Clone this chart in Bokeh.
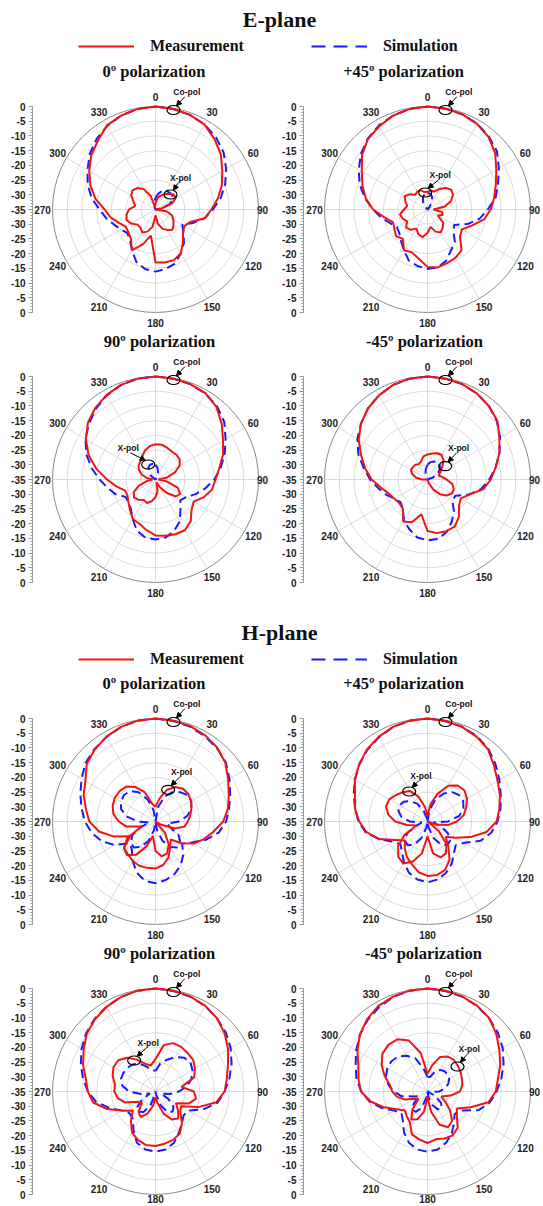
import numpy as np
from bokeh.plotting import figure
from bokeh.models import (Range1d, LinearAxis, FixedTicker, CustomJSTickFormatter,
                          Arrow, NormalHead, Legend, LegendItem)
from bokeh.layouts import column, row
from bokeh.core.properties import value
from bokeh.embed import file_html
from bokeh.resources import INLINE

# ---------------- data (dB, normalised) ----------------
ANGLE_DEG = list(range(0, 360, 10))
DB_FLOOR = -35
RING_DB = [-30, -25, -20, -15, -10, -5]
OUTER_DB = 0
SPOKE_DEG = list(range(0, 360, 30))
TICK_DB = list(range(-35, 36, 5))
MINOR_TICK_DB = list(range(-35, 36, 1))

# E-plane, 0 deg polarization
E0_MEAS_CO = [0, -0.3, -0.8, -1.7, -3.8, -6, -8.8, -11, -13.5, -16, -18, -22.5, -23.7, -22.8, -20.5, -17.8, -16.7, -16.7,
              -17, -26, -22.5, -19, -22, -23, -23.3, -21.8, -19.5, -17.7, -14.3, -11.5, -9, -6.5, -4.5, -2, -1, -0.3]
E0_MEAS_X = [-33, -31, -30, -29, -28, -27, -27, -29, -33, -35, -31, -29, -28, -27, -26, -27, -28, -30,
             -33, -29, -27, -26, -27, -27, -25.5, -24.5, -25, -26, -28, -27, -25.5, -24.8, -25.5, -27, -30, -34]
E0_SIM_CO = [0, -0.3, -0.8, -1.6, -3, -4.8, -7.3, -9.8, -12.5, -15.5, -18, -21.5, -24.5, -22.5, -20, -17.8, -15.5, -14.5,
             -13.9, -14.5, -16, -19, -21.5, -22.5, -21.5, -20, -18, -16, -13, -10.5, -8.3, -5.8, -3.8, -2.2, -1, -0.3]
E0_SIM_X = [-31, -29.5, -28.3, -27.7, -27.5, -27.5, -28, -30, -33, -35, -35, -35, -35, -35, -35, -35, -35, -35,
            -35, -35, -35, -35, -35, -35, -35, -35, -35, -35, -35, -35, -35, -35, -35, -35, -34, -32.5]

# E-plane, +45 deg polarization
E45_MEAS_CO = [0, -0.2, -0.5, -1.4, -2.8, -5, -8, -10.3, -12, -13.5, -15.5, -19, -21.5, -20.6, -17, -16, -15.6, -15,
               -15.5, -18, -19.5, -19, -22, -21, -22, -22.5, -20, -16.5, -13.7, -11.5, -9.2, -6, -3.6, -2.3, -1, -0.3]
E45_MEAS_X = [-29, -28.5, -28.5, -27, -25.5, -24.5, -25, -26.5, -29, -33, -30, -29.5, -31, -28, -27, -26, -27, -29,
              -27, -25.5, -26, -27.5, -26, -25.5, -27, -26, -25.5, -27, -28, -27, -26, -27, -28.5, -28, -28, -29]
E45_SIM_CO = [0, -0.2, -0.6, -1.3, -2.6, -4.2, -7, -9.5, -11.5, -14.5, -17, -20.5, -24.5, -23.5, -20.5, -19, -16.5, -15,
              -14.8, -15.5, -16.5, -19, -21, -22.5, -23, -21.5, -19, -16.5, -13.5, -10.5, -8, -5.5, -3.5, -2, -1, -0.3]
E45_SIM_X = [-29.5, -29.5, -30.5, -32, -34, -35, -35, -35, -35, -35, -35, -35, -35, -35, -35, -35, -35, -35,
             -35, -35, -35, -35, -35, -35, -35, -35, -35, -35, -35, -35, -35, -35, -34, -32, -30.5, -29.7]

# E-plane, 90 deg polarization
E90_MEAS_CO = [0, -0.2, -0.5, -1.1, -2.8, -5.6, -8.5, -10.6, -13, -14.6, -15.5, -17.5, -20, -19, -16.4, -15.1, -15.2, -15.6,
               -16, -17.5, -19, -19.5, -21.5, -23, -24, -24, -21.5, -18.5, -14.7, -10.8, -7.7, -5, -3.2, -1.8, -0.8, -0.2]
E90_MEAS_X = [-23, -23, -23.5, -24, -24, -24.3, -25.5, -28, -31, -34, -31, -27, -25.3, -26, -29, -32, -34, -31,
              -29, -27.5, -26.5, -27, -26, -25.5, -26.5, -29, -32, -34, -32, -30, -28.5, -27.5, -27, -26, -24.5, -23.5]
E90_SIM_CO = [0, -0.2, -0.5, -1.2, -2.5, -4.5, -7.5, -10, -12.5, -15, -17.8, -20.5, -23, -24, -21.8, -18.5, -16.5, -15,
              -14.6, -15, -16.5, -19.5, -22, -23, -23.2, -20.5, -18.5, -16, -13, -10, -7.5, -5.5, -3.5, -2, -0.8, -0.2]
E90_SIM_X = [-30, -31, -32.5, -34, -35, -35, -35, -35, -35, -35, -35, -35, -35, -35, -35, -35, -35, -35,
             -35, -35, -35, -35, -35, -35, -35, -35, -35, -35, -35, -35, -34.5, -33, -31.5, -30.3, -29.6, -29.6]

# E-plane, -45 deg polarization
EM45_MEAS_CO = [0, -0.2, -0.5, -1.3, -2.5, -4, -6.8, -9, -11.5, -13.5, -15.8, -20, -22, -21, -18.4, -16.5, -16.3, -16.5,
                -17.5, -23, -19.5, -18.5, -22, -22.5, -22, -21, -19, -16, -13.5, -11, -8, -5.5, -3.5, -2, -0.8, -0.2]
EM45_MEAS_X = [-26.5, -26, -25.5, -25.4, -26.5, -28.5, -30, -31, -30, -28.5, -26.5, -25.5, -25.5, -26.5, -28.5, -31, -33.5, -35,
               -35, -35, -35, -35, -35, -35, -35, -35, -35, -33, -31, -29.5, -28.5, -28.5, -28.5, -29, -28.5, -27]
EM45_SIM_CO = [0, -0.2, -0.5, -1.3, -2.5, -4.2, -6.5, -9, -11.5, -14, -16.5, -20, -24, -24, -21, -18.5, -16, -14.5,
               -14.3, -15, -17, -19, -22, -23, -22, -20, -18, -15.5, -13, -10, -7.5, -5.5, -3.5, -2, -0.8, -0.2]
EM45_SIM_X = [-30, -29, -28.5, -28.2, -28.5, -29.5, -31, -33, -35, -35, -35, -35, -35, -35, -35, -35, -35, -35,
              -35, -35, -35, -35, -35, -35, -35, -35, -35, -35, -35, -35, -35, -35, -35, -34.5, -33, -31.5]

# H-plane, 0 deg polarization
H0_MEAS_CO = [0, -0.2, -0.5, -1.2, -2.3, -4, -6.5, -8.5, -10, -12, -15, -17.5, -20, -23.5, -27, -25, -22, -20,
              -19, -19, -19, -19.5, -20.5, -21, -25, -20, -15.5, -12.5, -11, -9, -7.5, -4.5, -3, -1.7, -0.8, -0.2]
H0_MEAS_X = [-30, -27, -23.5, -21.5, -20.5, -20.5, -21, -22, -23, -24, -25, -28, -33, -35, -30, -26, -23.5, -23,
             -25, -30, -26, -22, -20, -21, -24, -30, -25, -22.5, -20.5, -19.5, -19, -19, -19.5, -21.5, -24.5, -29]
H0_SIM_CO = [0, -0.3, -0.7, -1.5, -2.5, -3.8, -6, -8, -9.6, -11, -13.2, -16.8, -20.8, -23.2, -20.3, -17.9, -16, -14.8,
             -14, -14.5, -16.5, -19.5, -22.5, -23.5, -19, -15.5, -13, -11, -9.5, -7.8, -6, -4, -2.8, -1.8, -0.8, -0.2]
H0_SIM_X = [-35, -30, -26, -23.5, -22, -21, -21, -22, -24, -27, -31, -30, -26, -24, -23.5, -25, -28, -32,
            -35, -32, -28, -25, -23.5, -24, -26, -30, -33, -29, -25, -22.5, -21.5, -21, -21.5, -23.5, -27, -31]

# H-plane, +45 deg polarization
H45_MEAS_CO = [0, -0.3, -0.8, -1.7, -3, -5.5, -7.5, -8.8, -10.2, -11.5, -14.6, -19.5, -24, -27, -24, -20, -17.5, -16.5,
               -16.5, -17.5, -19.5, -21, -23, -25, -22.5, -17.5, -14, -11.8, -10, -8.8, -6.5, -4.7, -3, -1.8, -0.8, -0.2]
H45_MEAS_X = [-33, -29, -25, -21, -19, -18.6, -19.5, -21, -22.5, -25, -28, -32, -35, -30, -25, -22.5, -22, -24,
              -30, -24, -20.5, -18.5, -19.5, -22, -26, -31, -28, -24, -21.5, -20, -20, -21, -22, -23, -26, -30]
H45_SIM_CO = [0, -0.3, -0.7, -1.5, -2.8, -4.8, -6.8, -8.5, -9.8, -11.2, -13, -15.8, -20.5, -22.5, -21, -18.5, -16.5, -15,
              -14.3, -15, -16.5, -19, -21.5, -23, -21.3, -17.5, -13.7, -11.5, -10, -8.3, -6.5, -4.8, -3.2, -2, -0.8, -0.2]
H45_SIM_X = [-35, -31, -27, -24, -22, -21, -21, -22, -24, -28, -33, -30, -27, -25, -24.5, -26, -29, -33,
             -35, -33, -29, -26, -24.5, -25, -27, -31, -33, -29, -26, -24.5, -24, -24.5, -26, -28, -31, -34]

# H-plane, 90 deg polarization
H90_MEAS_CO = [0, -0.2, -0.6, -1.3, -2.5, -4.3, -6.5, -8.8, -10.4, -11.5, -14, -19.5, -25, -24, -21, -18.5, -17.5, -17,
               -16.5, -16.5, -17.5, -19, -22, -25, -22, -17.5, -13.5, -12, -11, -8.8, -6.8, -4.5, -3, -1.8, -0.8, -0.2]
H90_MEAS_X = [-24, -19, -17.5, -17.5, -18, -18.3, -19.5, -21, -26, -22, -21, -23, -27, -25, -23, -24, -27, -31,
              -33, -30, -27, -25, -26, -29, -28, -24, -22, -21, -21, -19.5, -18.5, -18.5, -20, -22.5, -25, -26]
H90_SIM_CO = [0, -0.3, -0.7, -1.4, -2.5, -3.8, -5.5, -7.5, -9.5, -11.5, -13.5, -17.5, -22, -22.5, -21, -19, -16.5, -15,
              -14.6, -15, -16.5, -20, -23, -23.5, -22, -18.5, -14.5, -12, -10, -8, -6, -4.2, -2.8, -1.7, -0.8, -0.2]
H90_SIM_X = [-28, -25.3, -23.5, -21.5, -20, -19.5, -20.5, -22, -24, -27, -30, -33, -30, -27, -26, -27, -30, -34,
             -35, -34, -30, -27, -26, -27, -30, -33, -30, -26, -23.5, -22.5, -22.4, -22.5, -23, -24, -26, -27.5]

# H-plane, -45 deg polarization
HM45_MEAS_CO = [0, -0.2, -0.6, -1.3, -2.4, -4.5, -6.8, -8.7, -10.7, -11.8, -14, -19.4, -23.5, -22, -19, -17.8, -18, -18.5,
                -17.5, -18.5, -19.5, -23, -24, -25, -23, -19.3, -15.4, -12.4, -11.2, -10, -7.5, -5, -3, -1.5, -0.7, -0.2]
HM45_MEAS_X = [-29, -26, -22.5, -21.3, -21, -21.5, -22, -22.5, -23, -24, -27, -30, -28, -25, -22, -21, -23, -28,
               -33, -28, -25, -24, -27, -31, -30, -27, -24.5, -23, -22, -19.5, -17, -15, -14.3, -14.5, -16.6, -21.7]
HM45_SIM_CO = [0, -0.3, -0.7, -1.4, -2.5, -3.8, -5.5, -7.5, -9.5, -11.5, -13.5, -16.5, -22, -23, -21, -18.5, -16.5, -15,
               -14.5, -15, -16.5, -19, -22, -23.5, -22, -18.5, -15, -12.5, -10.5, -9, -7, -5, -3.3, -2, -0.8, -0.2]
HM45_SIM_X = [-30, -30, -28, -26.5, -26, -26, -26.5, -27.5, -29, -31, -34, -35, -32, -29, -27.5, -28, -30, -33,
              -35, -33, -29, -27, -27, -29, -32, -30, -26, -23.5, -21.5, -20, -19.2, -19, -19.5, -21, -23, -27]

PANEL_TITLES = ["0º polarization", "+45º polarization", "90º polarization", "-45º polarization",
                "0º polarization", "+45º polarization", "90º polarization", "-45º polarization"]
PANEL_SERIES = [
    (E0_MEAS_CO, E0_MEAS_X, E0_SIM_CO, E0_SIM_X),
    (E45_MEAS_CO, E45_MEAS_X, E45_SIM_CO, E45_SIM_X),
    (E90_MEAS_CO, E90_MEAS_X, E90_SIM_CO, E90_SIM_X),
    (EM45_MEAS_CO, EM45_MEAS_X, EM45_SIM_CO, EM45_SIM_X),
    (H0_MEAS_CO, H0_MEAS_X, H0_SIM_CO, H0_SIM_X),
    (H45_MEAS_CO, H45_MEAS_X, H45_SIM_CO, H45_SIM_X),
    (H90_MEAS_CO, H90_MEAS_X, H90_SIM_CO, H90_SIM_X),
    (HM45_MEAS_CO, HM45_MEAS_X, HM45_SIM_CO, HM45_SIM_X),
]
LEGEND_LABELS = ["Measurement", "Simulation"]

# ---------------- layout / style (pixels) ----------------
S = 103.0 / 35.0            # px per dB of radius
AXIS_W = 32
TITLE_DX = [-1.5, -24, 4, -3, -1.5, -24, 4, -4]
TITLE_DY = 138
XPOL_ELLIPSE = [(15, 15), (-2.3, 17), (-7.3, 15), (17.7, 13.3),
                (12.7, 31.7), (-18.3, 30), (-21.3, 31), (30, 25)]
XPOL_LABEL_OFF = [(10, 17), (15, 17.3), (-20, 16.7), (13.3, 18.3),
                  (13.3, 17.7), (11.7, 15.7), (14, 17.3), (11.7, 17.3)]
COPOL_ELLIPSE = (18, 99.5)
COPOL_LABEL_OFF = (13.3, 18.3)
RED = "#f01414"
BLUE = "#1a1aff"
GRID_C = "#d2d2d2"
SANS = value("Liberation Sans")
SERIF = value("Liberation Serif")


def to_xy(db_list):
    th = np.radians(ANGLE_DEG + [360])
    db = np.array(list(db_list) + [db_list[0]], dtype=float)
    r = np.clip(db - DB_FLOOR, 0, None)
    return r * np.sin(th), r * np.cos(th)


def make_panel(i, width, height, cx, last_row):
    fw = width - AXIS_W
    p = figure(width=width, height=height, output_backend="svg", toolbar_location=None, tools="",
               x_range=Range1d(-cx / S, (fw - cx) / S),
               y_range=Range1d(-(height - 147) / S, 147 / S),
               x_axis_location=None, y_axis_location=None,
               min_border_left=AXIS_W, min_border_right=0, min_border_top=0, min_border_bottom=0,
               outline_line_color=None, background_fill_color="white", border_fill_color="white")
    p.grid.visible = False

    ax = LinearAxis(ticker=FixedTicker(ticks=TICK_DB, minor_ticks=MINOR_TICK_DB),
                    formatter=CustomJSTickFormatter(code="return String(Math.abs(Math.round(tick)) - 35);"),
                    bounds=(-35, 35))
    ax.axis_line_color = "#9a9a9a"
    ax.major_tick_line_color = "#9a9a9a"
    ax.minor_tick_line_color = "#9a9a9a"
    ax.major_tick_out = 4
    ax.major_tick_in = 0
    ax.minor_tick_out = 2
    ax.minor_tick_in = 0
    ax.major_label_standoff = 3
    ax.major_label_text_font = "Liberation Sans"
    ax.major_label_text_font_style = "bold"
    ax.major_label_text_font_size = "10px"
    ax.major_label_text_color = "#222222"
    p.add_layout(ax, "left")

    # polar grid
    rings = [d - DB_FLOOR for d in RING_DB]
    p.circle(x=[0] * len(rings), y=[0] * len(rings), radius=rings,
             fill_color=None, line_color=GRID_C, line_width=0.8)
    p.circle(x=[0], y=[0], radius=[OUTER_DB - DB_FLOOR], fill_color=None, line_color="#8a8a8a", line_width=1)
    R = OUTER_DB - DB_FLOOR
    sth = np.radians(SPOKE_DEG)
    p.segment(x0=[0] * len(sth), y0=[0] * len(sth), x1=R * np.sin(sth), y1=R * np.cos(sth),
              line_color=GRID_C, line_width=0.8)
    # angle labels; the 90 label (and the 180 label in the cut-off last row) sit a bit closer in
    rl = np.array([107 if (a == 90 or (a == 180 and last_row)) else 113 for a in SPOKE_DEG]) / S
    p.text(x=rl * np.sin(sth), y=rl * np.cos(sth), text=[str(a) for a in SPOKE_DEG],
           text_align="center", text_baseline="middle", text_font=SANS, text_font_style="bold",
           text_font_size="10px", text_color="#222222")

    mco, mx, sco, sx = PANEL_SERIES[i]
    for d in (sco, sx):
        x, y = to_xy(d)
        p.line(x, y, line_color=BLUE, line_width=2, line_dash="9 5")
    for d in (mco, mx):
        x, y = to_xy(d)
        p.line(x, y, line_color=RED, line_width=2)

    # title
    p.text(x=[TITLE_DX[i] / S], y=[TITLE_DY / S], text=[PANEL_TITLES[i]],
           text_align="center", text_baseline="middle", text_font=SERIF, text_font_style="bold",
           text_font_size="16.5px", text_color="#111111")

    # annotations
    for (ex, ey), (lx, ly), lab in ((COPOL_ELLIPSE, COPOL_LABEL_OFF, "Co-pol"),
                                     (XPOL_ELLIPSE[i], XPOL_LABEL_OFF[i], "X-pol")):
        p.ellipse(x=[ex / S], y=[ey / S], width=[13 / S], height=[9 / S],
                  fill_color=None, line_color="black", line_width=1.2)
        tx, ty = ex + lx, ey + ly
        sg = 1 if lx > 0 else -1
        p.text(x=[tx / S], y=[ty / S], text=[lab], text_align="center", text_baseline="middle",
               text_font=SANS, text_font_style="bold", text_font_size="8.5px", text_color="#111111")
        p.add_layout(Arrow(end=NormalHead(size=5, fill_color="black", line_color="black"),
                           x_start=(tx - sg * 2) / S, y_start=(ty - 5) / S,
                           x_end=(ex + sg * 3) / S, y_end=(ey + 4.3) / S,
                           line_color="black", line_width=1))
    return p


def make_header(title, height, title_y, legend_y):
    p = figure(width=543, height=height, output_backend="svg", toolbar_location=None, tools="",
               x_range=Range1d(0, 543), y_range=Range1d(height, 0),
               x_axis_location=None, y_axis_location=None,
               min_border=0, outline_line_color=None)
    p.grid.visible = False
    p.text(x=[279], y=[title_y], text=[title], text_align="center", text_baseline="middle",
           text_font=SERIF, text_font_style="bold", text_font_size="22px", text_color="#111111")
    # legend proxies: lines lying outside the visible range
    r1 = p.line(x=[-30, -20], y=[5, 5], line_color=RED, line_width=2)
    r2 = p.line(x=[-30, -20], y=[5, 5], line_color=BLUE, line_width=2.2, line_dash="14 8")
    leg = Legend(items=[LegendItem(label=LEGEND_LABELS[0], renderers=[r1]),
                        LegendItem(label=LEGEND_LABELS[1], renderers=[r2])],
                 orientation="horizontal", location=(78, height - legend_y - 9),
                 glyph_width=56, glyph_height=18, label_height=18, label_standoff=16, spacing=67,
                 padding=0, margin=0, border_line_color=None, background_fill_alpha=0,
                 label_text_font="Liberation Serif", label_text_font_style="bold",
                 label_text_font_size="16px", label_text_color="#111111")
    p.add_layout(leg)
    return p


LW, RW = 271, 272
ROW_H = [270, 270, 270, 262]
panels = []
for i in range(8):
    rowi = i // 2
    last = rowi == len(ROW_H) - 1
    if i % 2 == 0:
        panels.append(make_panel(i, LW, ROW_H[rowi], 123, last))
    else:
        panels.append(make_panel(i, RW, ROW_H[rowi], 124, last))

hE = make_header("E-plane", 62, 19, 46)
hH = make_header("H-plane", 72, 30, 57)

layout = column(hE,
                row(panels[0], panels[1], spacing=0),
                row(panels[2], panels[3], spacing=0),
                hH,
                row(panels[4], panels[5], spacing=0),
                row(panels[6], panels[7], spacing=0),
                spacing=0)

open("out.html", "w").write(file_html(layout, INLINE))
